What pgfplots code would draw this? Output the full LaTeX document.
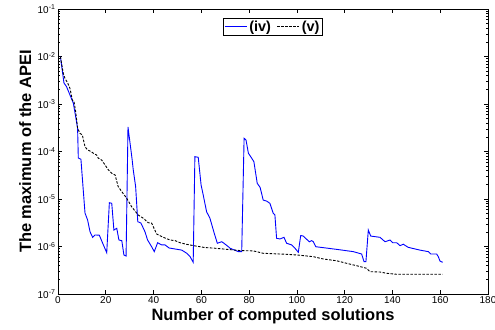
\documentclass[border=0pt]{standalone}
\usepackage{fontspec}
\setmainfont{Liberation Sans}
\usepackage{pgfplots}
\pgfplotsset{compat=1.18}
\begin{document}
\begin{tikzpicture}
\begin{semilogyaxis}[
  at={(0,0)}, anchor=south west,
  scale only axis, width=430bp, height=285bp,
  xmin=0, xmax=180, ymin=1e-7, ymax=1e-1,
  xtick={0,20,...,180},
  ytick={1e-7,1e-6,1e-5,1e-4,1e-3,1e-2,1e-1},
  yticklabels={10\textsuperscript{-7},10\textsuperscript{-6},10\textsuperscript{-5},10\textsuperscript{-4},10\textsuperscript{-3},10\textsuperscript{-2},10\textsuperscript{-1}},
  /pgf/number format/assume math mode=true,
  tick label style={font=\fontsize{10}{12}\selectfont, black},
  yticklabel style={xshift=1bp},
  xticklabel style={yshift=1bp},
  tick align=inside,
  major tick length=4bp, minor tick length=2.5bp,
  axis line style={black, line width=0.8bp},
  every tick/.style={black, line width=0.6bp},
  xlabel={Number of computed solutions},
  ylabel={The maximum of the APEI},
  every axis x label/.style={at={(axis description cs:0.5,0)}, anchor=center, yshift=-22bp,
    font=\fontsize{16.5}{18}\selectfont\bfseries},
  every axis y label/.style={at={(axis description cs:-0.076,0.5)}, anchor=center, rotate=90,
    font=\fontsize{16.5}{18}\selectfont\bfseries},
  legend columns=2,
  legend style={at={(axis description cs:0.5,0.97)}, anchor=north, draw=black, line width=0.8bp,
    font=\fontsize{14.5}{16}\selectfont\bfseries, inner sep=1bp,
    /tikz/every even column/.append style={column sep=4bp}},
  legend image code/.code={\draw[#1] (0bp,0bp) -- (22bp,0bp);},
]
\addplot[blue, line width=0.9bp] coordinates {
(1,1.0e-2) (2.5,2.77e-3) (3.6,2.31e-3) (5.0,1.55e-3) (6.4,1.05e-3) (7.4,5.4e-4) (8.2,3.1e-4)
(8.5,7.3e-5) (9.6,6.85e-5) (11.3,5.07e-6) (12.4,3.61e-6) (13.4,2.05e-6) (14.5,1.56e-6)
(15.5,1.75e-6) (17.3,1.73e-6) (19.0,1.08e-6) (20.4,7.4e-7) (21.5,8.36e-6) (22.5,8.1e-6)
(23.4,2.22e-6) (24.6,2.42e-6) (25.5,1.37e-6) (26.7,1.33e-6) (27.6,6.6e-7) (28.5,6.3e-7)
(29.3,3.28e-4) (31.0,7.0e-5) (31.5,4.1e-5) (32.5,1.82e-5) (33.4,3.33e-6) (34.7,3.12e-6)
(36.4,2.05e-6) (37.5,1.37e-6) (39.2,9.9e-7) (40.3,7.8e-7) (41.7,1.2e-6) (43.4,1.08e-6)
(44.8,1.08e-6) (46.5,9.3e-7) (51.8,8.4e-7) (53.9,7.2e-7) (55.3,6.1e-7) (56.6,4.65e-7)
(57.3,7.78e-5) (58.7,7.55e-5) (59.9,1.97e-5) (60.8,1.21e-5) (62.2,5.4e-6) (63.6,3.93e-6)
(65.4,1.9e-6) (66.7,1.17e-6) (68.5,1.26e-6) (69.2,1.2e-6) (71.3,9.9e-7) (72.0,9.2e-7)
(75.5,7.8e-7) (76.9,7.8e-7) (77.9,1.9e-4) (78.7,1.75e-4) (79.7,9.2e-5) (81.1,7.2e-5)
(82.0,6.1e-5) (83.4,2.14e-5) (84.6,1.76e-5) (85.9,9.5e-6) (87.4,9.0e-6) (88.7,8.1e-6)
(90.1,5.0e-6) (90.8,4.6e-6) (91.5,1.49e-6) (92.9,1.44e-6) (94.6,1.56e-6) (95.7,1.17e-6)
(97.8,1.08e-6) (99.2,9.2e-7) (100.6,7.55e-7) (101.6,1.7e-6) (102.7,1.66e-6) (104.4,1.37e-6)
(105.2,1.26e-6) (106.2,1.33e-6) (106.9,1.26e-6) (107.9,9.9e-7) (116.7,8.7e-7) (123.6,7.8e-7)
(127.1,6.95e-7) (128.1,4.8e-7) (128.9,4.8e-7) (129.9,2.22e-6) (130.9,1.66e-6) (134.8,1.56e-6)
(136.9,1.26e-6) (139.0,1.37e-6) (140.1,1.2e-6) (141.8,1.2e-6) (143.2,1.04e-6) (144.5,1.12e-6)
(146.6,9.6e-7) (151.5,8.4e-7) (155.0,7.8e-7) (156.0,6.95e-7) (158.5,6.95e-7) (159.2,6.1e-7)
(159.9,4.95e-7) (161.0,4.65e-7)
};
\addlegendentry{(iv)}
\addplot[black, line width=0.9bp, dash pattern=on 2.5bp off 1.5bp] coordinates {
(1,1.0e-2) (2.2,4.43e-3) (2.9,3.48e-3) (4.1,2.73e-3) (5.0,2.14e-3) (6.0,1.21e-3) (6.7,1.12e-3)
(7.4,6.9e-4) (8.2,3.08e-4) (9.2,2.42e-4) (10.2,2.22e-4) (11.3,1.26e-4) (12.4,1.08e-4)
(13.8,1.0e-4) (14.8,9.2e-5) (16.2,8.4e-5) (16.9,7.2e-5) (18.3,6.6e-5) (19.7,5.2e-5)
(21.1,4.1e-5) (22.5,3.48e-5) (23.9,3.2e-5) (25.2,1.82e-5) (26.7,1.43e-5) (28.8,1.03e-5)
(30.8,6.9e-6) (33.6,4.6e-6) (35.7,3.93e-6) (37.8,3.17e-6) (39.2,3.1e-6) (41.3,1.83e-6)
(44.1,1.56e-6) (46.9,1.37e-6) (49.0,1.33e-6) (51.1,1.2e-6) (53.9,1.11e-6) (57.3,1.03e-6)
(61.5,9.5e-7) (65.7,9.2e-7) (74.1,8.4e-7) (76.2,8.2e-7) (81.7,8.1e-7) (85.9,7.2e-7)
(95.7,6.85e-7) (100.6,6.6e-7) (106.9,6.1e-7) (111.1,5.46e-7) (116.7,5.0e-7) (120.8,4.43e-7)
(125.0,3.94e-7) (129.2,3.48e-7) (130.6,2.95e-7) (134.8,2.9e-7) (137.6,2.73e-7) (141.8,2.6e-7)
(161.0,2.6e-7)
};
\addlegendentry{(v)}
\end{semilogyaxis}
\pgfresetboundingbox
\path[use as bounding box] (-58bp,-36bp) rectangle (437bp,294bp);
\end{tikzpicture}
\end{document}
